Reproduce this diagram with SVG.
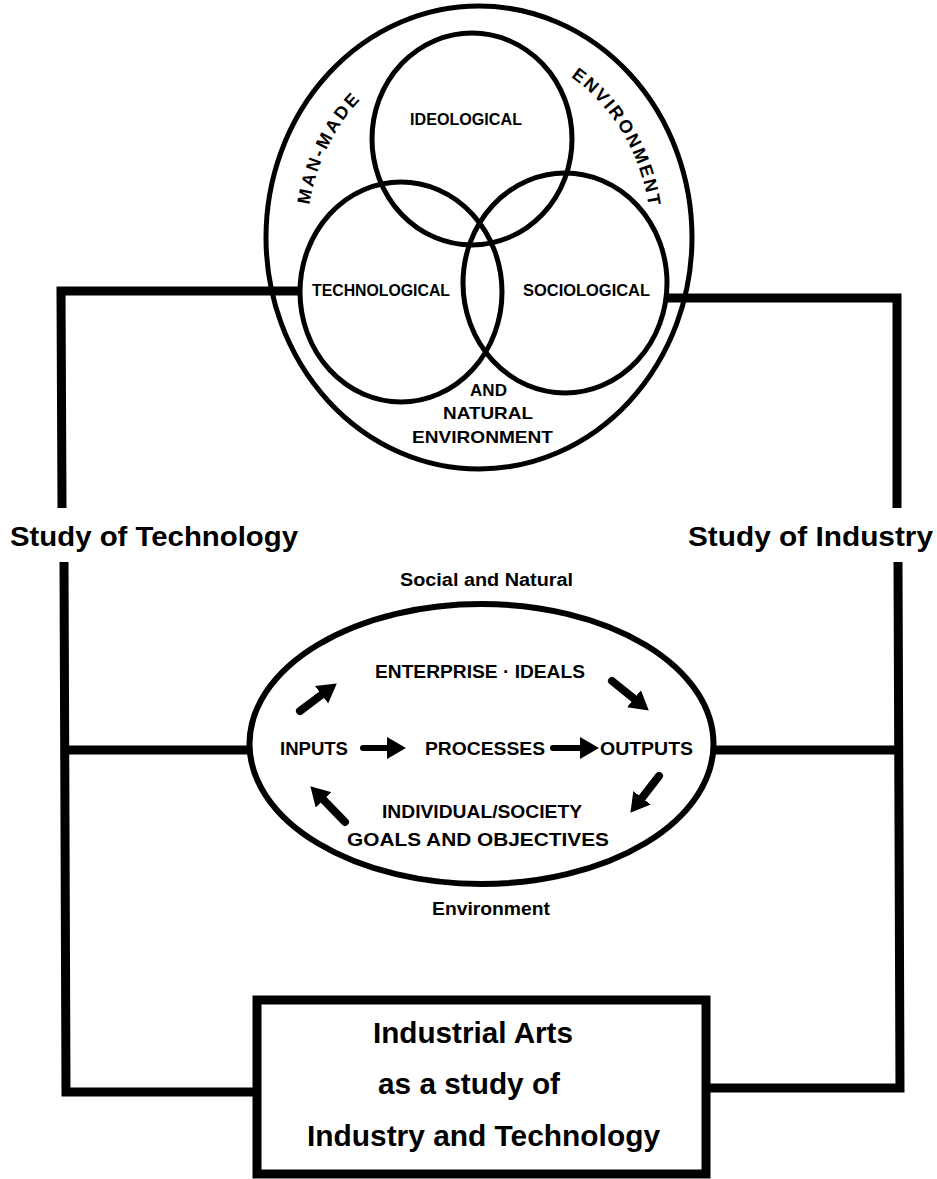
<svg xmlns="http://www.w3.org/2000/svg" width="937" height="1179" viewBox="0 0 937 1179">
<defs>
<style>
.ln{fill:none;stroke:#000;stroke-width:9;stroke-linejoin:miter;stroke-linecap:butt}
.c{fill:none;stroke:#000;stroke-width:5}
.t{font-family:"Liberation Sans",Arial,sans-serif;font-weight:700;fill:#000}
.ar{fill:none;stroke:#000;stroke-width:8;stroke-linecap:round}
</style>
<marker id="ah" markerUnits="userSpaceOnUse" markerWidth="22" markerHeight="24" refX="4" refY="11" orient="auto">
<path d="M0,0 L19,11 L0,22 z" fill="#000"/>
</marker>
<path id="arcL" d="M 307.9 257.4 A 172 190 0 0 1 403.6 66.7"/>
<path id="arcR" d="M 541.5 60.5 A 172 190 0 0 1 650.9 241.8"/>
</defs>
<rect width="937" height="1179" fill="#fff"/>

<g id="connectors">
<path class="ln" d="M 300 291 L 61 291 L 62 508"/>
<path class="ln" d="M 64 562 L 66 1092 L 257 1092"/>
<path class="ln" d="M 64 750 L 250 750"/>
<path class="ln" d="M 667 298 L 897 298 L 897 508"/>
<path class="ln" d="M 898 562 L 900 1088 L 706 1088"/>
<path class="ln" d="M 713 750 L 898 750"/>
</g>

<g id="environment-venn">
<ellipse class="c" cx="479" cy="237.5" rx="213" ry="231.5"/>
<text class="t" font-size="18" letter-spacing="2.6"><textPath href="#arcL" startOffset="50%" text-anchor="middle">MAN-MADE</textPath></text>
<text class="t" font-size="18" letter-spacing="2.2"><textPath href="#arcR" startOffset="50%" text-anchor="middle">ENVIRONMENT</textPath></text>
<text class="t" font-size="17" x="488.5" y="396" text-anchor="middle">AND</text>
<text class="t" font-size="17" x="488" y="419" text-anchor="middle" textLength="90" lengthAdjust="spacingAndGlyphs">NATURAL</text>
<text class="t" font-size="17" x="482.5" y="443" text-anchor="middle" textLength="141" lengthAdjust="spacingAndGlyphs">ENVIRONMENT</text>
</g>

<g id="ideological">
<ellipse class="c" cx="472" cy="139" rx="100" ry="106"/>
<text class="t" font-size="16" x="466" y="125" text-anchor="middle" textLength="112" lengthAdjust="spacingAndGlyphs">IDEOLOGICAL</text>
</g>

<g id="technological">
<ellipse class="c" cx="401" cy="292" rx="101" ry="110"/>
<text class="t" font-size="16" x="381" y="296" text-anchor="middle" textLength="138" lengthAdjust="spacingAndGlyphs">TECHNOLOGICAL</text>
</g>

<g id="sociological">
<ellipse class="c" cx="565" cy="283" rx="102" ry="110"/>
<text class="t" font-size="16" x="586.5" y="296" text-anchor="middle" textLength="127" lengthAdjust="spacingAndGlyphs">SOCIOLOGICAL</text>
</g>

<g id="study-technology">
<text class="t" font-size="28" x="10" y="546" textLength="288" lengthAdjust="spacingAndGlyphs">Study of Technology</text>
</g>

<g id="study-industry">
<text class="t" font-size="28" x="688" y="546" textLength="245" lengthAdjust="spacingAndGlyphs">Study of Industry</text>
</g>

<g id="enterprise-cycle">
<text class="t" font-size="18" x="486.5" y="586" text-anchor="middle" textLength="173" lengthAdjust="spacingAndGlyphs">Social and Natural</text>
<ellipse cx="481.5" cy="744" rx="232" ry="140" fill="none" stroke="#000" stroke-width="6"/>
<text class="t" font-size="18" x="480" y="678" text-anchor="middle" textLength="210" lengthAdjust="spacingAndGlyphs">ENTERPRISE · IDEALS</text>
<text class="t" font-size="19" x="314" y="755" text-anchor="middle" textLength="68" lengthAdjust="spacingAndGlyphs">INPUTS</text>
<text class="t" font-size="19" x="485" y="755" text-anchor="middle" textLength="120" lengthAdjust="spacingAndGlyphs">PROCESSES</text>
<text class="t" font-size="19" x="646.5" y="755" text-anchor="middle" textLength="93" lengthAdjust="spacingAndGlyphs">OUTPUTS</text>
<text class="t" font-size="19" x="482" y="818" text-anchor="middle" textLength="200" lengthAdjust="spacingAndGlyphs">INDIVIDUAL/SOCIETY</text>
<text class="t" font-size="19" x="478" y="846" text-anchor="middle" textLength="262" lengthAdjust="spacingAndGlyphs">GOALS AND OBJECTIVES</text>
<text class="t" font-size="18" x="491" y="915" text-anchor="middle" textLength="118" lengthAdjust="spacingAndGlyphs">Environment</text>
<line class="ar" style="stroke-width:6" x1="363" y1="748" x2="391" y2="748" marker-end="url(#ah)"/>
<line class="ar" style="stroke-width:6" x1="553" y1="748" x2="584" y2="748" marker-end="url(#ah)"/>
<line class="ar" x1="300" y1="711" x2="324.8" y2="692.4" marker-end="url(#ah)"/>
<line class="ar" x1="612" y1="681" x2="637.1" y2="701.2" marker-end="url(#ah)"/>
<line class="ar" x1="659" y1="776" x2="639.6" y2="801" marker-end="url(#ah)"/>
<line class="ar" x1="345" y1="822" x2="320.8" y2="797" marker-end="url(#ah)"/>
</g>

<g id="industrial-arts">
<rect x="257" y="1000" width="449" height="174" fill="none" stroke="#000" stroke-width="9"/>
<text class="t" font-size="30" x="473" y="1043" text-anchor="middle" textLength="200" lengthAdjust="spacingAndGlyphs">Industrial Arts</text>
<text class="t" font-size="30" x="469" y="1094" text-anchor="middle" textLength="182" lengthAdjust="spacingAndGlyphs">as a study of</text>
<text class="t" font-size="30" x="483.5" y="1146" text-anchor="middle" textLength="353" lengthAdjust="spacingAndGlyphs">Industry and Technology</text>
</g>
</svg>
